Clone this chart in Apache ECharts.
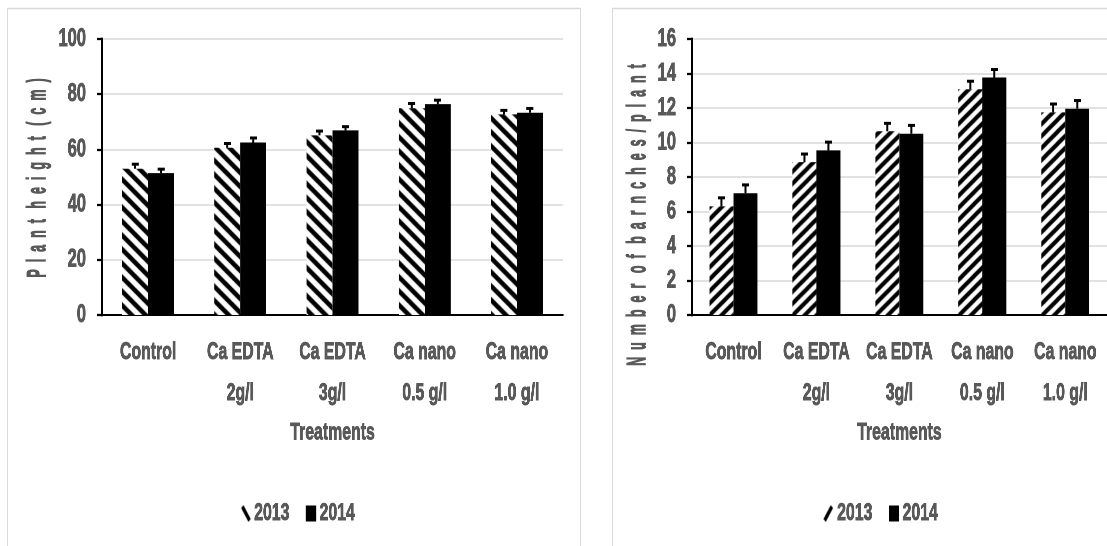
<!DOCTYPE html>
<html>
<head>
<meta charset="utf-8">
<script src="https://cdn.jsdelivr.net/npm/echarts@6/dist/echarts.min.js"></script>
<style>
html,body{margin:0;padding:0;background:#fff;overflow:hidden;width:1107px;height:546px;}
#chart{width:1677px;height:546px;transform:scaleX(0.66);transform-origin:0 0;}
</style>
</head>
<body>
<div id="chart"></div>
<script>
// ---- data ----
const categories = ['Control', 'Ca EDTA\n2g/l', 'Ca EDTA\n3g/l', 'Ca nano\n0.5 g/l', 'Ca nano\n1.0 g/l'];
const seriesNames = ['2013', '2014'];
const height2013 = [53.0, 60.6, 65.1, 74.9, 72.7];
const height2014 = [51.4, 62.5, 66.9, 76.4, 73.3];
const heightErr2013 = [2.0, 1.9, 1.9, 2.1, 1.8];
const heightErr2014 = [1.8, 2.0, 1.7, 1.8, 1.9];
const branches2013 = [6.3, 8.86, 10.65, 13.09, 11.75];
const branches2014 = [7.06, 9.54, 10.51, 13.77, 11.96];
const branchesErr2013 = [0.55, 0.53, 0.52, 0.52, 0.54];
const branchesErr2014 = [0.54, 0.54, 0.54, 0.52, 0.53];
const heightTicks = [0, 20, 40, 60, 80, 100];
const branchTicks = [0, 2, 4, 6, 8, 10, 12, 14, 16];
const leftYTitle = 'P  l  a  n  t   h  e  i  g  h  t   (  c  m  )';
const rightYTitle = 'N  u  m  b  e  r   o  f   b  a  r  n  c  h  e  s  /  p  l  a  n  t';
const xTitle = 'Treatments';

// ---- layout (the page is compressed horizontally by SX, like the reference) ----
const SX = 0.66;
const X = v => v / SX;          // real pixel -> drawing pixel (horizontal only)
const FONT = "'Liberation Sans', Arial, sans-serif";
const GRAY = '#595959';
const BOLDER = { textBorderColor: GRAY, textBorderWidth: 0.9 };

function makeHatch(dir, W, H, w) {
  const c = document.createElement('canvas');
  c.width = W; c.height = H;
  const g = c.getContext('2d');
  g.fillStyle = '#fff'; g.fillRect(0, 0, W, H);
  g.strokeStyle = '#000'; g.lineWidth = w;
  g.beginPath();
  for (let k = -3; k <= 3; k++) {
    if (dir === 'back') { g.moveTo(k * W - W, -H); g.lineTo(k * W + 2 * W, 2 * H); }
    else { g.moveTo(k * W - W, 2 * H); g.lineTo(k * W + 2 * W, -H); }
  }
  g.stroke();
  return c;
}
const backHatch = makeHatch('back', 21, 14, 5.4);
const fwdHatch = makeHatch('fwd', 18, 12, 4.8);
function legendIcon(dir) {
  const c = document.createElement('canvas');
  c.width = 16; c.height = 16;
  const g = c.getContext('2d');
  g.fillStyle = '#fff'; g.fillRect(0, 0, 16, 16);
  g.strokeStyle = '#000'; g.lineWidth = 4.5;
  g.beginPath();
  if (dir === 'back') { g.moveTo(3, 1); g.lineTo(14, 15); }
  else { g.moveTo(2, 15); g.lineTo(13, 1); }
  g.stroke();
  return 'image://' + c.toDataURL();
}

function errSeries(name, vals, errs, xi, yi, offset) {
  return {
    type: 'custom', name: name + ' err', xAxisIndex: xi, yAxisIndex: yi, z: 5,
    data: vals.map((v, i) => [i, v, errs[i]]),
    encode: { x: 0, y: 1 },
    renderItem: function (params, api) {
      const i = api.value(0), v = api.value(1), e = api.value(2);
      const b = api.coord([i, v]);
      const t = api.coord([i, v + e]);
      const cx = b[0] + offset;
      return {
        type: 'group', children: [
          { type: 'line', shape: { x1: cx, y1: b[1], x2: cx, y2: t[1] }, style: { stroke: '#000', lineWidth: X(2) } },
          { type: 'line', shape: { x1: cx - X(3.5), y1: t[1] + 1, x2: cx + X(3.5), y2: t[1] + 1 }, style: { stroke: '#000', lineWidth: 3 } }
        ]
      };
    },
    silent: true, tooltip: { show: false }
  };
}

const BW_L = X(26), BW_R = X(24);
const gridTop = 39, gridH = 276;

function yAxis(gridIndex, max, interval) {
  return {
    type: 'value', gridIndex: gridIndex, min: 0, max: max, interval: interval,
    axisLine: { show: true, lineStyle: { color: '#000', width: X(2) } },
    axisTick: { show: true, length: X(5), lineStyle: { color: '#000', width: X(1.5) } },
    axisLabel: Object.assign({ color: GRAY, fontFamily: FONT, fontWeight: 'bold', fontSize: 25, margin: X(16) }, BOLDER),
    splitLine: { show: true, lineStyle: { color: '#d9d9d9', width: 1.5 } }
  };
}
function xAxis(gridIndex) {
  return {
    type: 'category', gridIndex: gridIndex, data: categories,
    axisLine: { show: true, lineStyle: { color: '#000', width: 2 } },
    axisTick: { show: false },
    axisLabel: Object.assign({ color: GRAY, fontFamily: FONT, fontWeight: 'bold', fontSize: 24, lineHeight: 41, margin: 17, interval: 0 }, BOLDER),
    name: xTitle, nameLocation: 'middle', nameGap: 106,
    nameTextStyle: Object.assign({ color: GRAY, fontFamily: FONT, fontWeight: 'bold', fontSize: 24, lineHeight: 24 }, BOLDER)
  };
}
const labelStyle = Object.assign({ color: GRAY, fontFamily: FONT, fontWeight: 'bold', fontSize: 24 }, BOLDER);

function yTitle(text, x, y) {
  return {
    type: 'text', x: X(x), y: y, rotation: Math.PI / 2, scaleX: 0.57, scaleY: 1.2 / SX,
    style: { text: text, fill: GRAY, font: 'bold 22px ' + FONT, textAlign: 'center', textVerticalAlign: 'middle',
             stroke: GRAY, lineWidth: 0.9 }
  };
}

const chart = echarts.init(document.getElementById('chart'), null, { renderer: 'canvas', devicePixelRatio: 2 });
chart.setOption({
  animation: false,
  backgroundColor: '#fff',
  grid: [
    { left: X(102), top: gridTop, width: X(461), height: gridH },
    { left: X(692), top: gridTop, width: X(430), height: gridH }
  ],
  xAxis: [xAxis(0), xAxis(1)],
  yAxis: [yAxis(0, heightTicks[heightTicks.length - 1], heightTicks[1] - heightTicks[0]),
          yAxis(1, branchTicks[branchTicks.length - 1], branchTicks[1] - branchTicks[0])],
  legend: [
    { left: X(237), top: 496, itemWidth: 16, itemHeight: 16, itemGap: X(16), textStyle: labelStyle,
      data: [{ name: seriesNames[0], icon: legendIcon('back') }, { name: seriesNames[1], icon: 'rect' }] },
    { left: X(820), top: 496, itemWidth: 16, itemHeight: 16, itemGap: X(16), textStyle: labelStyle,
      data: [{ name: seriesNames[0], icon: legendIcon('fwd') }, { name: seriesNames[1], icon: 'rect' }] }
  ],
  graphic: [
    { type: 'rect', shape: { x: X(7.5), y: 8.5, width: X(573), height: 600 }, style: { fill: 'none', stroke: '#d9d9d9', lineWidth: X(1) }, silent: true, z: -10 },
    { type: 'rect', shape: { x: X(612.5), y: 8.5, width: X(600), height: 600 }, style: { fill: 'none', stroke: '#d9d9d9', lineWidth: X(1) }, silent: true, z: -10 },
    yTitle(leftYTitle, 38, 178),
    yTitle(rightYTitle, 638, 215)
  ],
  series: [
    { type: 'bar', name: seriesNames[0], xAxisIndex: 0, yAxisIndex: 0, data: height2013, barWidth: BW_L, barGap: '0%',
      itemStyle: { color: { image: backHatch, repeat: 'repeat' } } },
    { type: 'bar', name: seriesNames[1], xAxisIndex: 0, yAxisIndex: 0, data: height2014, barWidth: BW_L, barGap: '0%',
      itemStyle: { color: '#000' } },
    { type: 'bar', name: seriesNames[0], xAxisIndex: 1, yAxisIndex: 1, data: branches2013, barWidth: BW_R, barGap: '0%',
      itemStyle: { color: { image: fwdHatch, repeat: 'repeat' } } },
    { type: 'bar', name: seriesNames[1], xAxisIndex: 1, yAxisIndex: 1, data: branches2014, barWidth: BW_R, barGap: '0%',
      itemStyle: { color: '#000' } },
    errSeries('h2013', height2013, heightErr2013, 0, 0, -BW_L / 2),
    errSeries('h2014', height2014, heightErr2014, 0, 0, BW_L / 2),
    errSeries('b2013', branches2013, branchesErr2013, 1, 1, -BW_R / 2),
    errSeries('b2014', branches2014, branchesErr2014, 1, 1, BW_R / 2)
  ]
});
</script>
</body>
</html>
